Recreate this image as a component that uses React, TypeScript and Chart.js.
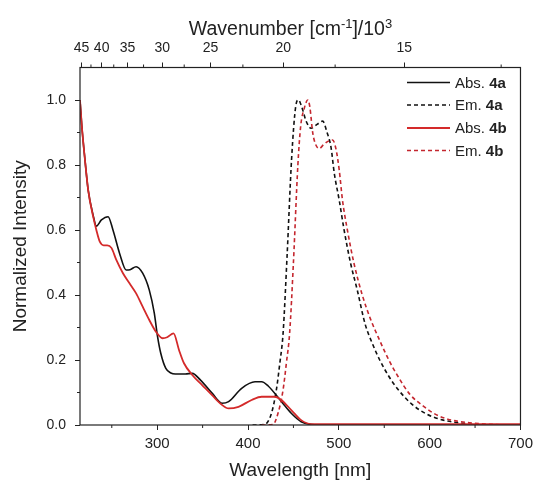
import React, { useEffect, useRef } from 'react';
import { Chart, registerables } from 'chart.js';
Chart.register(...registerables);

// ---- data ----
const absAWl = [215, 217, 220.5, 224, 229.5, 233, 238.6, 245.9, 251.3, 258.6, 265.9, 270, 276.8, 284, 291.3, 296.8, 300.4, 304, 309.5, 315, 320, 331, 338.6, 347.7, 360.4, 371.3, 378.6, 393, 407.7, 415, 422.2, 436.7, 447.6, 458.5, 473, 500, 600, 700];
const absAInt = [1.0, 0.92, 0.815, 0.723, 0.645, 0.612, 0.631, 0.641, 0.6, 0.528, 0.477, 0.478, 0.487, 0.467, 0.415, 0.344, 0.272, 0.22, 0.174, 0.16, 0.157, 0.157, 0.159, 0.138, 0.098, 0.067, 0.072, 0.113, 0.133, 0.133, 0.12, 0.072, 0.036, 0.01, 0.001, 0, 0, 0];

const absBWl = [215, 217, 220.5, 224, 229.5, 233, 236.8, 241, 245, 249.6, 255, 262.3, 269.5, 276.8, 284, 291.3, 298.6, 305.8, 311, 318, 324, 329.5, 338.6, 349.5, 360.4, 371.3, 378.6, 389.5, 404, 415, 429.5, 436.7, 447.6, 458.5, 469.4, 500, 600, 700];
const absBInt = [1.0, 0.92, 0.815, 0.723, 0.641, 0.6, 0.564, 0.553, 0.553, 0.545, 0.508, 0.467, 0.436, 0.405, 0.364, 0.323, 0.287, 0.267, 0.27, 0.282, 0.231, 0.19, 0.154, 0.123, 0.092, 0.062, 0.051, 0.056, 0.077, 0.087, 0.087, 0.077, 0.046, 0.015, 0.003, 0.003, 0.003, 0.003];

const emAWl = [405, 418.6, 425.8, 431.2, 435, 438.6, 443, 448, 452.5, 455.5, 459, 464, 469.4, 476, 482.2, 487, 491.3, 495, 500.4, 505.8, 513, 520.3, 529, 537, 545, 555, 565, 580, 597, 615, 637, 660, 700];
const emAInt = [0, 0.002, 0.036, 0.108, 0.19, 0.282, 0.52, 0.82, 0.98, 1.0, 0.98, 0.935, 0.913, 0.925, 0.935, 0.9, 0.856, 0.774, 0.692, 0.6, 0.497, 0.415, 0.31, 0.25, 0.2, 0.15, 0.11, 0.065, 0.033, 0.015, 0.005, 0, 0];

const emBWl = [415, 427.6, 433, 438.6, 442.2, 445.8, 450, 454.9, 458, 462, 465.8, 468, 471.3, 475, 478.6, 483, 487.6, 493.1, 496.7, 500.4, 504, 509.4, 516.7, 525.8, 535, 545, 555, 565, 578, 593, 605, 620, 644, 662, 690, 700];
const emBInt = [0, 0.002, 0.036, 0.108, 0.19, 0.282, 0.5, 0.8, 0.92, 0.975, 1.0, 0.98, 0.898, 0.86, 0.851, 0.862, 0.872, 0.877, 0.851, 0.785, 0.692, 0.6, 0.497, 0.4, 0.325, 0.26, 0.2, 0.15, 0.095, 0.058, 0.035, 0.018, 0.007, 0.003, 0, 0];

const xTicks = [300, 400, 500, 600, 700];
const xMinorTicks = [250, 350, 450, 550, 650];
const yTicks = [0, 0.2, 0.4, 0.6, 0.8, 1.0];
const yMinorTicks = [0.1, 0.3, 0.5, 0.7, 0.9];
const wnTicks = [45, 40, 35, 30, 25, 20, 15];
const wnMinorTicks = [42.5, 37.5, 32.5, 27.5, 22.5, 17.5, 12.5];

const legendNames = ['Abs. ', 'Em. ', 'Abs. ', 'Em. '];
const legendBold = ['4a', '4a', '4b', '4b'];

const FONT = 'Arial, "Liberation Sans", sans-serif';
const BLACK = '#111111';
const RED = '#d42a2a';
const RED_DASH = '#c4262e';

const zip = (xs: number[], ys: number[]) => xs.map((x, i) => ({ x, y: ys[i] }));

const decorPlugin = {
  id: 'decor',
  afterDraw(chart: any) {
    const { ctx, chartArea: a, scales } = chart;
    const xs = scales.x, ys = scales.y, x2 = scales.x2;
    ctx.save();
    // frame
    ctx.strokeStyle = '#222';
    ctx.lineWidth = 1.2;
    ctx.strokeRect(a.left, a.top, a.right - a.left, a.bottom - a.top);
    // minor ticks
    ctx.lineWidth = 1;
    ctx.beginPath();
    xMinorTicks.forEach(v => {
      const px = xs.getPixelForValue(v);
      ctx.moveTo(px, a.bottom); ctx.lineTo(px, a.bottom + 3);
    });
    yMinorTicks.forEach(v => {
      const py = ys.getPixelForValue(v);
      ctx.moveTo(a.left, py); ctx.lineTo(a.left - 3, py);
    });
    wnMinorTicks.forEach(v => {
      const px = x2.getPixelForValue(1e4 / v);
      if (px <= a.right) { ctx.moveTo(px, a.top); ctx.lineTo(px, a.top - 3); }
    });
    ctx.stroke();

    // titles
    ctx.fillStyle = '#222';
    ctx.font = `19px ${FONT}`;
    ctx.textAlign = 'center';
    ctx.textBaseline = 'middle';
    ctx.fillText('Wavelength [nm]', (a.left + a.right) / 2, 471);
    ctx.save();
    ctx.translate(21, (a.top + a.bottom) / 2);
    ctx.rotate(-Math.PI / 2);
    ctx.fillText('Normalized Intensity', 0, 0);
    ctx.restore();

    // top title with superscripts
    const parts = [
      { t: 'Wavenumber [cm', sup: false },
      { t: '-1', sup: true },
      { t: ']/10', sup: false },
      { t: '3', sup: true },
    ];
    const big = `19.5px ${FONT}`, small = `13px ${FONT}`;
    let total = 0;
    parts.forEach(p => { ctx.font = p.sup ? small : big; total += ctx.measureText(p.t).width; });
    let cx = 290.5 - total / 2;
    ctx.textAlign = 'left';
    ctx.textBaseline = 'alphabetic';
    parts.forEach(p => {
      ctx.font = p.sup ? small : big;
      ctx.fillText(p.t, cx, p.sup ? 28 : 35);
      cx += ctx.measureText(p.t).width;
    });

    // legend
    const rows = [82.5, 105, 128, 150.5];
    const colors = [BLACK, BLACK, RED, RED_DASH];
    const dashed = [false, true, false, true];
    rows.forEach((ry, i) => {
      ctx.strokeStyle = colors[i];
      ctx.lineWidth = i === 2 ? 1.8 : 1.5;
      ctx.setLineDash(dashed[i] ? [4, 3] : []);
      ctx.beginPath();
      ctx.moveTo(407, ry); ctx.lineTo(450, ry);
      ctx.stroke();
      ctx.setLineDash([]);
      ctx.fillStyle = '#222';
      ctx.textBaseline = 'middle';
      ctx.font = `15px ${FONT}`;
      ctx.fillText(legendNames[i], 455, ry + 1);
      const w = ctx.measureText(legendNames[i]).width;
      ctx.font = `bold 15px ${FONT}`;
      ctx.fillText(legendBold[i], 455 + w, ry + 1);
    });
    ctx.restore();
  },
};

export default function App() {
  const ref = useRef<HTMLCanvasElement>(null);
  useEffect(() => {
    const canvas = ref.current;
    if (!canvas) return;
    const tickFont = (s: number) => ({ family: FONT, size: s });
    const chart = new Chart(canvas, {
      type: 'line',
      data: {
        datasets: [
          { label: 'Abs. 4b', data: zip(absBWl, absBInt), borderColor: RED, borderWidth: 1.8, order: 0 },
          { label: 'Em. 4b', data: zip(emBWl, emBInt), borderColor: RED_DASH, borderWidth: 1.6, borderDash: [4, 3], order: 1 },
          { label: 'Em. 4a', data: zip(emAWl, emAInt), borderColor: BLACK, borderWidth: 1.6, borderDash: [4, 3], order: 2 },
          { label: 'Abs. 4a', data: zip(absAWl, absAInt), borderColor: BLACK, borderWidth: 1.6, order: 3 },
        ].map(d => ({ ...d, pointRadius: 0, fill: false, cubicInterpolationMode: 'monotone' as const, xAxisID: 'x', yAxisID: 'y' })),
      },
      plugins: [decorPlugin],
      options: {
        responsive: false,
        animation: false,
        devicePixelRatio: 1,
        layout: { padding: { left: 0, right: 13.5, top: 0, bottom: 0 } },
        plugins: { legend: { display: false }, tooltip: { enabled: false } },
        scales: {
          x: {
            type: 'linear', position: 'bottom', min: 215, max: 700,
            afterBuildTicks: (s: any) => { s.ticks = xTicks.map(v => ({ value: v })); },
            afterFit: (s: any) => { s.height = 56; },
            ticks: { font: tickFont(15), color: '#222', padding: 5, autoSkip: false, maxRotation: 0 },
            grid: { drawOnChartArea: false, drawTicks: true, tickLength: 5, color: '#222' },
            border: { display: false },
          },
          x2: {
            type: 'linear', position: 'top', min: 220.2, max: 826.6,
            afterBuildTicks: (s: any) => { s.ticks = wnTicks.map(v => ({ value: 1e4 / v })); },
            afterFit: (s: any) => { s.height = 67.5; },
            ticks: { font: tickFont(14), color: '#222', padding: 6, autoSkip: false, maxRotation: 0, callback: (v: any) => String(Math.round(1e4 / Number(v))) },
            grid: { drawOnChartArea: false, drawTicks: true, tickLength: 5, color: '#222' },
            border: { display: false },
          },
          y: {
            type: 'linear', position: 'left', min: 0, max: 1.1,
            afterBuildTicks: (s: any) => { s.ticks = yTicks.map(v => ({ value: v })); },
            afterFit: (s: any) => { s.width = 80; },
            ticks: { font: tickFont(14), color: '#222', padding: 9, callback: (v: any) => Number(v).toFixed(1) },
            grid: { drawOnChartArea: false, drawTicks: true, tickLength: 5, color: '#222' },
            border: { display: false },
          },
        },
      } as any,
    });
    return () => chart.destroy();
  }, []);
  return (
    <div style={{ position: 'fixed', left: 0, top: 0, width: 538, height: 481, background: '#fff' }}>
      <canvas ref={ref} width={538} height={481} style={{ display: 'block', width: 538, height: 481 }} />
    </div>
  );
}
